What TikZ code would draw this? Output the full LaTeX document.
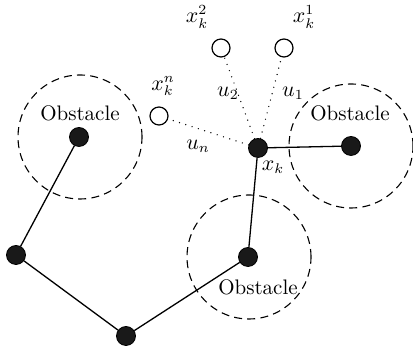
\documentclass[tikz,border=0pt]{standalone}
\begin{document}
\begin{tikzpicture}[x=0.5pt,y=-0.5pt,
  dot/.style={circle,fill=black!90,draw=black,inner sep=0pt,minimum size=9.5pt},
  odot/.style={circle,draw=black,line width=0.6pt,fill=white,inner sep=0pt,minimum size=9pt},
  zone/.style={draw=black,line width=0.55pt,dash pattern=on 4pt off 2.6pt},
  link/.style={draw=black,line width=0.65pt},
  cand/.style={draw=black,line width=0.7pt,dash pattern=on 0pt off 3.3pt,line cap=round},
  lab/.style={inner sep=0pt,font=\fontsize{10.5}{12}\selectfont}]
\useasboundingbox (0,0) rectangle (413,351);
% obstacle zones
\draw[zone] (80,137) circle (31pt);
\draw[zone] (351,146) circle (31pt);
\draw[zone] (249,257) circle (31pt);
\node[lab] (t1) at (80,113) {Obstacle};
\node[lab] (t2) at (350,113) {Obstacle};
\node[lab] (t3) at (258,287) {Obstacle};
% path nodes
\node[dot] (a) at (79,137) {};
\node[dot] (b) at (16,255) {};
\node[dot] (c) at (126,336) {};
\node[dot] (d) at (248,257) {};
\node[dot] (xk) at (258,148) {};
\node[dot] (e) at (351,146) {};
\draw[link] (a) -- (b) -- (c) -- (d) -- (xk) -- (e);
% candidates
\node[odot] (c1) at (284,48) {};
\node[odot] (c2) at (221,48) {};
\node[odot] (cn) at (159,116) {};
\draw[cand] (xk) -- (c1);
\draw[cand] (xk) -- (c2);
\draw[cand] (xk) -- (cn);
% labels
\node[lab] (l1) at (304,17) {$x_k^1$};
\node[lab] (l2) at (197,17) {$x_k^2$};
\node[lab] (ln) at (163,86) {$x_k^n$};
\node[lab] (lu1) at (293,93) {$u_1$};
\node[lab] (lu2) at (228,93) {$u_2$};
\node[lab] (lun) at (198,146) {$u_n$};
\node[lab] (lxk) at (273,167) {$x_k$};
\end{tikzpicture}
\end{document}
